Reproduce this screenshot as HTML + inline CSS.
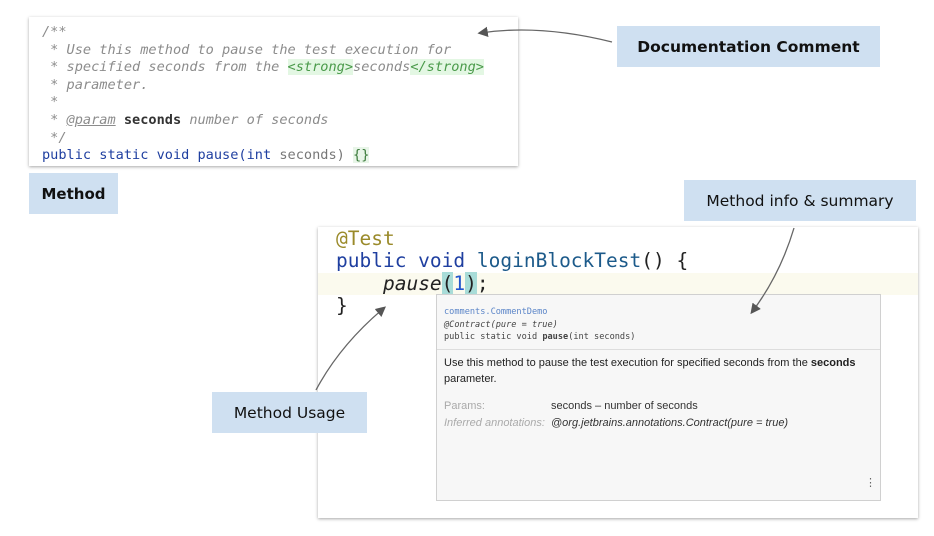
<!DOCTYPE html>
<html><head><meta charset="utf-8"><style>
*{margin:0;padding:0;box-sizing:border-box}
body{width:934px;height:536px;background:#fff;position:relative;overflow:hidden;font-family:"Liberation Sans",sans-serif}
.abs{position:absolute}
.mono{font-family:"DejaVu Sans Mono","Liberation Mono",monospace;white-space:pre}
.lbl{position:absolute;background:#cfe0f1;color:#111;font-family:"DejaVu Sans","Liberation Sans",sans-serif;display:flex;align-items:center;justify-content:center}
.c{color:#8c8c8c;font-style:italic}
.k{color:#1f3fa0}
.g{background:#e3f7e3;color:#4a9a4a}
</style></head><body>
<div class="abs" style="left:29px;top:17px;width:489px;height:149px;background:#fff;box-shadow:0 1px 3px rgba(0,0,0,.35)"></div>
<div class="abs mono" style="left:42px;top:24px;font-size:13.6px;line-height:17.6px;color:#8c8c8c"><span class="c">/**</span>
<span class="c"> * Use this method to pause the test execution for</span>
<span class="c"> * specified seconds from the <span class="g">&lt;strong&gt;</span>seconds<span class="g">&lt;/strong&gt;</span></span>
<span class="c"> * parameter.</span>
<span class="c"> *</span>
<span class="c"> * <u>@param</u> <b style="color:#333;font-style:normal">seconds</b> number of seconds</span>
<span class="c"> */</span>
<span class="k">public static void pause(int</span> <span style="color:#777">seconds)</span> <span style="color:#3a7a3a;background:#e8f5e8">{}</span></div>

<div class="lbl" style="left:29px;top:173px;width:89px;height:41px;font-weight:bold;font-size:15px">Method</div>
<div class="lbl" style="left:617px;top:26px;width:263px;height:41px;font-weight:bold;font-size:15.5px">Documentation Comment</div>
<div class="lbl" style="left:684px;top:180px;width:232px;height:41px;font-size:15.5px">Method info &amp; summary</div>

<div class="abs" style="left:318px;top:227px;width:600px;height:291px;background:#fff;box-shadow:0 1px 3px rgba(0,0,0,.35)"></div>
<div class="abs" style="left:318px;top:273px;width:600px;height:22px;background:#fbfaee"></div>
<div class="abs mono" style="left:336px;top:228px;font-size:19.5px;line-height:22.4px;color:#222"><span style="color:#9a8a2a">@Test</span>
<span class="k">public void</span> <span style="color:#1c5a8a">loginBlockTest</span>() {
    <i>pause</i><span style="background:#a8dcd8">(</span><span style="color:#2255cc">1</span><span style="background:#a8dcd8">)</span>;
}</div>

<div class="abs" style="left:436px;top:294px;width:445px;height:207px;background:#f7f7f7;border:1px solid #d0d0d0"></div>
<div class="abs" style="left:437px;top:349px;width:443px;height:1px;background:#ddd"></div>
<div class="abs mono" style="left:444px;top:306px;font-size:8.6px;line-height:12.5px;color:#444"><span style="color:#5b85c8">comments.CommentDemo</span>
<i>@Contract(pure = true)</i>
public static void <b>pause</b>(int seconds)</div>
<div class="abs" style="left:444px;top:355px;font-size:11px;line-height:16px;color:#222;width:430px">Use this method to pause the test execution for specified seconds from the <b>seconds</b> parameter.</div>
<div class="abs" style="left:444px;top:400px;font-size:11px;color:#aaa">Params:</div>
<div class="abs" style="left:551px;top:400px;font-size:11px;color:#333">seconds – number of seconds</div>
<div class="abs" style="left:444px;top:417px;font-size:11px;color:#aaa;font-style:italic">Inferred annotations:</div>
<div class="abs" style="left:551px;top:417px;font-size:11px;color:#333;font-style:italic">@org.jetbrains.annotations.Contract(pure = true)</div>
<div class="abs" style="left:865px;top:476px;font-size:11px;color:#666">⋮</div>

<div class="lbl" style="left:212px;top:392px;width:155px;height:41px;font-size:15.5px">Method Usage</div>

<svg class="abs" style="left:0;top:0" width="934" height="536">
<defs><marker id="a" markerWidth="8" markerHeight="8" refX="6" refY="4" orient="auto"><path d="M0,0 L8,4 L0,8 z" fill="#555"/></marker></defs>
<g stroke="#666" stroke-width="1.3" fill="none">
<path d="M612,42 Q540,24 480,33" marker-end="url(#a)"/>
<path d="M794,228 Q780,275 752,312" marker-end="url(#a)"/>
<path d="M316,390 Q340,345 384,308" marker-end="url(#a)"/>
</g></svg>
</body></html>
